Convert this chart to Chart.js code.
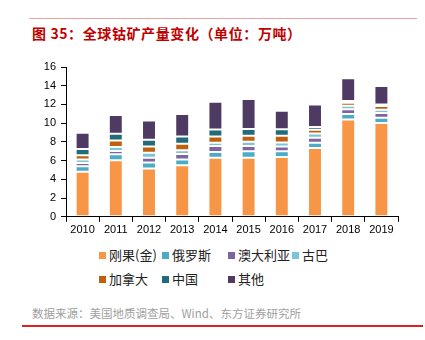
<!DOCTYPE html>
<html>
<head>
<meta charset="utf-8">
<script src="https://cdn.jsdelivr.net/npm/chart.js@4/dist/chart.umd.min.js"></script>
<style>
  body { margin: 0; width: 425px; height: 340px; background: #fff; position: relative; overflow: hidden;
         font-family: "Noto Sans CJK SC", "Liberation Sans", sans-serif; }
  .abs { position: absolute; }
  #topline { left: 29px; top: 18px; width: 388px; height: 1px; background: #e9a3a3; }
  #title { left: 32px; top: 23px; font-size: 14px; font-weight: bold; color: #c00000; line-height: 20px; white-space: nowrap; letter-spacing: 0.6px; }
  #wrap { left: 0; top: 50px; width: 425px; height: 191px; }
  #legend { left: 0; top: 0; width: 425px; font-size: 13px; color: #222; }
  .item { position: absolute; white-space: nowrap; line-height: 16px; }
  .item i { display: inline-block; width: 7px; height: 7px; margin-right: 3px; vertical-align: 1px; }
  #source { left: 32px; top: 304px; font-size: 11.5px; color: #a0a0a0; line-height: 18px; white-space: nowrap; }
  #bottomline { left: 22px; top: 325px; width: 401px; height: 1.5px; background: #e02020; }
</style>
</head>
<body>
<div id="topline" class="abs"></div>
<div id="title" class="abs">图 35：全球钴矿产量变化（单位：万吨）</div>
<div id="wrap" class="abs"><canvas id="chart"></canvas></div>
<div id="legend" class="abs"></div>
<div id="source" class="abs">数据来源：美国地质调查局、Wind、东方证券研究所</div>
<div id="bottomline" class="abs"></div>
<script>
// data (万吨)
const years = ["2010", "2011", "2012", "2013", "2014", "2015", "2016", "2017", "2018", "2019"];
const seriesNames = ["刚果(金)", "俄罗斯", "澳大利亚", "古巴", "加拿大", "中国", "其他"];
const congo     = [4.80, 6.04, 5.16, 5.51, 6.32, 6.32, 6.39, 7.34, 10.38, 10.03];
const russia    = [0.60, 0.63, 0.63, 0.60, 0.60, 0.67, 0.60, 0.57, 0.60, 0.56];
const australia = [0.35, 0.36, 0.53, 0.60, 0.63, 0.56, 0.53, 0.53, 0.52, 0.50];
const cuba      = [0.36, 0.42, 0.53, 0.39, 0.36, 0.47, 0.42, 0.46, 0.36, 0.35];
const canada    = [0.46, 0.71, 0.67, 0.70, 0.67, 0.63, 0.71, 0.39, 0.32, 0.39];
const china     = [0.67, 0.71, 0.71, 0.78, 0.74, 0.74, 0.71, 0.31, 0.18, 0.17];
const other     = [1.73, 2.01, 2.05, 2.40, 2.97, 3.18, 1.98, 2.40, 2.44, 1.98];
const yTicks = [0, 2, 4, 6, 8, 10, 12, 14, 16];

const colors = ["#f79646", "#4bacc6", "#8064a2", "#7cc4d8", "#c0600f", "#216b7b", "#4e3a62"];
const values = [congo, russia, australia, cuba, canada, china, other];

window.addEventListener("DOMContentLoaded", () => {
  drawChart();
  drawLegend();
});

function drawChart() {
  const datasets = values.map((v, i) => ({
    label: seriesNames[i],
    data: v,
    backgroundColor: colors[i],
    borderColor: "rgba(255,255,255,0.3)",
    borderWidth: 1,
    borderSkipped: false,
    categoryPercentage: 1,
    barPercentage: 0.42,
  }));

  new Chart(document.getElementById("chart"), {
    type: "bar",
    data: { labels: years, datasets: datasets },
    options: {
      responsive: true,
      maintainAspectRatio: false,
      animation: false,
      layout: { padding: { left: 26, right: 27, top: 17, bottom: 2 } },
      plugins: { legend: { display: false }, tooltip: { enabled: false } },
      scales: {
        x: {
          stacked: true,
          offset: true,
          grid: { offset: true, drawOnChartArea: false, drawTicks: true, tickLength: 5, color: "#000" },
          border: { color: "#000", width: 1 },
          ticks: { color: "#000", padding: 2, font: { family: "Liberation Sans", size: 11 }, maxRotation: 0 },
        },
        y: {
          stacked: true,
          min: 0,
          max: 16,
          afterBuildTicks: (scale) => { scale.ticks = yTicks.map((v) => ({ value: v })); },
          afterFit: (scale) => { scale.width = 40; },
          grid: { drawOnChartArea: false, drawTicks: true, tickLength: 5, color: "#000" },
          border: { color: "#000", width: 1 },
          ticks: { color: "#000", padding: 5, font: { family: "Liberation Sans", size: 11 } },
        },
      },
    },
  });
}

function drawLegend() {
  // 4 columns, 2 rows like the original
  const cols = [99, 162, 228, 292];
  const rows = [247, 271];
  const legend = document.getElementById("legend");
  seriesNames.forEach((name, i) => {
    const div = document.createElement("div");
    div.className = "item";
    div.style.left = cols[i % 4] + "px";
    div.style.top = rows[Math.floor(i / 4)] + "px";
    div.innerHTML = `<i style="background:${colors[i]}"></i>${name}`;
    legend.appendChild(div);
  });
}
</script>
</body>
</html>
